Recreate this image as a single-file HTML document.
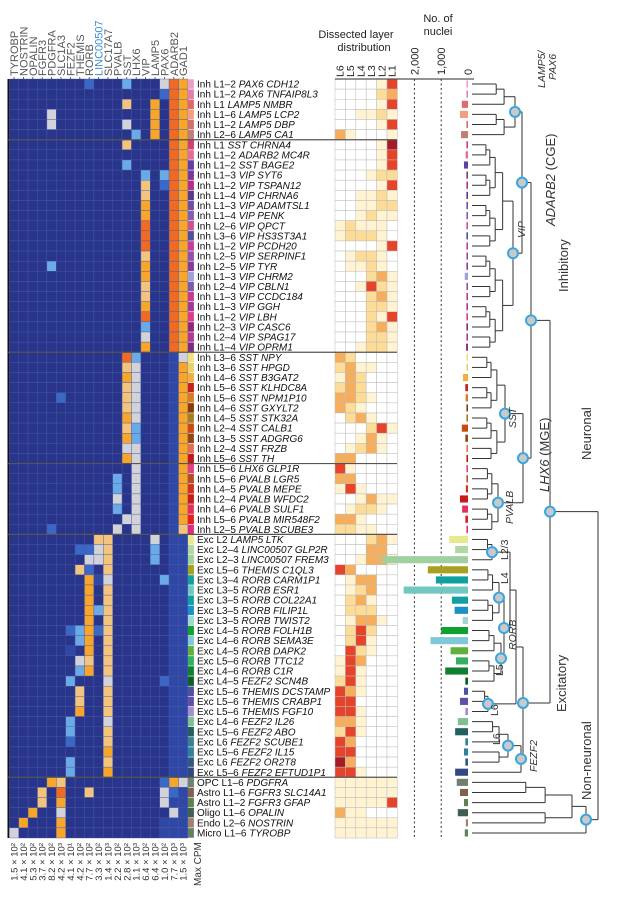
<!DOCTYPE html>
<html><head><meta charset="utf-8"><style>
html,body{margin:0;padding:0;background:#fff;}
svg{display:block;font-family:"Liberation Sans",Arial,sans-serif;}
</style></head><body>
<svg id="fig" width="623" height="900" viewBox="0 0 623 900" xmlns="http://www.w3.org/2000/svg">
<g id="heat"></g>
<g id="labels"></g>
<g id="layers"></g>
<g id="bars"></g>
<g id="dendro"></g>
<g id="annot">
  <text x="356" y="38" font-size="11" text-anchor="middle" fill="#222">Dissected layer</text>
  <text x="364" y="51" font-size="11" text-anchor="middle" fill="#222">distribution</text>
  <text x="438" y="22" font-size="11" text-anchor="middle" fill="#222">No. of</text>
  <text x="438" y="35" font-size="11" text-anchor="middle" fill="#222">nuclei</text>
  <text transform="translate(545,88) rotate(-90)" font-size="10.5" fill="#333" font-style="italic">LAMP5/</text>
  <text transform="translate(556,80) rotate(-90)" font-size="10.5" fill="#333" font-style="italic">PAX6</text>
  <text transform="translate(555,226) rotate(-90)" font-size="13" fill="#333"><tspan font-style="italic">ADARB2</tspan> (CGE)</text>
  <text transform="translate(525,238) rotate(-90)" font-size="10.5" fill="#333" font-style="italic">VIP</text>
  <text transform="translate(568,292) rotate(-90)" font-size="13" fill="#333">Inhibitory</text>
  <text transform="translate(516,428) rotate(-90)" font-size="10.5" fill="#333" font-style="italic">SST</text>
  <text transform="translate(549,492) rotate(-90)" font-size="13" fill="#333"><tspan font-style="italic">LHX6</tspan> (MGE)</text>
  <text transform="translate(591,460) rotate(-90)" font-size="13" fill="#333">Neuronal</text>
  <text transform="translate(513,524) rotate(-90)" font-size="10.5" fill="#333" font-style="italic">PVALB</text>
  <text transform="translate(508,560) rotate(-90)" font-size="10.5" fill="#333">L2/3</text>
  <text transform="translate(508,584) rotate(-90)" font-size="10.5" fill="#333">L4</text>
  <text transform="translate(516,650) rotate(-90)" font-size="10.5" fill="#333" font-style="italic">RORB</text>
  <text transform="translate(503,676) rotate(-90)" font-size="10.5" fill="#333">L5</text>
  <text transform="translate(498,716) rotate(-90)" font-size="10.5" fill="#333">L6</text>
  <text transform="translate(500,745) rotate(-90)" font-size="10.5" fill="#333">L6</text>
  <text transform="translate(537,772) rotate(-90)" font-size="10.5" fill="#333" font-style="italic">FEZF2</text>
  <text transform="translate(566,712) rotate(-90)" font-size="13" fill="#333">Excitatory</text>
  <text transform="translate(591,800) rotate(-90)" font-size="13" fill="#333">Non-neuronal</text>
  <text transform="translate(201,886) rotate(-90)" font-size="10" fill="#333">Max CPM</text>
</g>
</svg>
<script>
const genes = ["TYROBP","NOSTRIN","OPALIN","FGFR3","PDGFRA","SLC1A3","FEZF2","THEMIS","RORB","LINC00507","SLC17A7","PVALB","SST","LHX6","VIP","LAMP5","PAX6","ADARB2","GAD1"];
const maxCpm = ["1.5 × 10²","4.1 × 10²","5.3 × 10²","3.7 × 10²","8.2 × 10²","4.2 × 10³","4.1 × 10¹","4.2 × 10²","7.7 × 10²","3.3 × 10²","1.4 × 10³","2.2 × 10²","2.8 × 10²","1.1 × 10³","6.4 × 10²","6.4 × 10²","1.0 × 10²","7.7 × 10³","1.5 × 10³"];
const typeClass = ["Inh L1–2","Inh L1–2","Inh L1","Inh L1–6","Inh L1–2","Inh L2–6","Inh L1","Inh L1–2","Inh L1–2","Inh L1–3","Inh L1–2","Inh L1–4","Inh L1–3","Inh L1–4","Inh L2–6","Inh L3–6","Inh L1–2","Inh L2–5","Inh L2–5","Inh L1–3","Inh L2–4","Inh L1–3","Inh L1–3","Inh L1–2","Inh L2–3","Inh L2–4","Inh L1–4","Inh L3–6","Inh L3–6","Inh L4–6","Inh L5–6","Inh L5–6","Inh L4–6","Inh L4–5","Inh L2–4","Inh L3–5","Inh L2–4","Inh L5–6","Inh L5–6","Inh L5–6","Inh L4–5","Inh L2–4","Inh L4–6","Inh L5–6","Inh L2–5","Exc L2","Exc L2–4","Exc L2–3","Exc L5–6","Exc L3–4","Exc L3–5","Exc L3–5","Exc L3–5","Exc L3–5","Exc L4–5","Exc L4–6","Exc L4–5","Exc L5–6","Exc L4–6","Exc L4–5","Exc L5–6","Exc L5–6","Exc L5–6","Exc L4–6","Exc L5–6","Exc L6","Exc L5–6","Exc L6","Exc L5–6","OPC L1–6","Astro L1–6","Astro L1–2","Oligo L1–6","Endo L2–6","Micro L1–6"];
const typeGenes = ["PAX6 CDH12","PAX6 TNFAIP8L3","LAMP5 NMBR","LAMP5 LCP2","LAMP5 DBP","LAMP5 CA1","SST CHRNA4","ADARB2 MC4R","SST BAGE2","VIP SYT6","VIP TSPAN12","VIP CHRNA6","VIP ADAMTSL1","VIP PENK","VIP QPCT","VIP HS3ST3A1","VIP PCDH20","VIP SERPINF1","VIP TYR","VIP CHRM2","VIP CBLN1","VIP CCDC184","VIP GGH","VIP LBH","VIP CASC6","VIP SPAG17","VIP OPRM1","SST NPY","SST HPGD","SST B3GAT2","SST KLHDC8A","SST NPM1P10","SST GXYLT2","SST STK32A","SST CALB1","SST ADGRG6","SST FRZB","SST TH","LHX6 GLP1R","PVALB LGR5","PVALB MEPE","PVALB WFDC2","PVALB SULF1","PVALB MIR548F2","PVALB SCUBE3","LAMP5 LTK","LINC00507 GLP2R","LINC00507 FREM3","THEMIS C1QL3","RORB CARM1P1","RORB ESR1","RORB COL22A1","RORB FILIP1L","RORB TWIST2","RORB FOLH1B","RORB SEMA3E","RORB DAPK2","RORB TTC12","RORB C1R","FEZF2 SCN4B","THEMIS DCSTAMP","THEMIS CRABP1","THEMIS FGF10","FEZF2 IL26","FEZF2 ABO","FEZF2 SCUBE1","FEZF2 IL15","FEZF2 OR2T8","FEZF2 EFTUD1P1","PDGFRA","FGFR3 SLC14A1","FGFR3 GFAP","OPALIN","NOSTRIN","TYROBP"];
const exprRows = [
"........b...l...gro","................bro","............y..o.ro","....g..........o.ro","....g.......g..o.ro",".............l.o.ro",
"............y....ro",".................ro","............l....ro","..............l.lro","..............y.bro","..............y..ro",
"..............o..ro","..............o..ro","..............r..ro","..............r..ro","..............r..ro","..............y..ro",
"....l.........o..ro","..............o..ro","..............y..ro","..............y..ro","..............o..ro","..............r..ro",
"..............l..ro","..............g..ro","..............o..ro",
"............rl...dg","............yg...do","............og...do","............yg...do",".....b......yg...do","............yg...do",
"............og...do","............yl...do","............ol...do","............gg...do","............og...do",
".............g...do","...........l.g...do","...........l.g...do","...........g.g...do","...........l.g...do","............gg...do","....b......g.g...dy",
".........yy....g.dd",".......bbgy....l.dd","........ggy....l.dd",".......yb.y......dd","........odg.....ldd","........o.y......dd",
"........o.y......dd","........oly......dd","........o.y......dd","......bloby......dd",".......lo.y......dd","......d.o.y......dd",
".......gy.y......dd",".......lo.y......dd","......l...g.....bdd",".......y..y......dd",".......y..y......dd",".......o..y......dd",
"......l...g......dd","......l...y......dd","......b...y......dd","..........o......dd","......l...y......dd","......l...o......dd",
"....oy..........bog","...y.r..y.......gbd","...y.o..........gdd","..o..g...........gd",".o...o..........ddd","g....o..........ddd"];
const exprColors = {".":"#29358b","d":"#2f48a6","b":"#3a68c6","l":"#6aaae6","g":"#d2d3d9","y":"#f3c47e","o":"#f8a62a","r":"#f06a24"};
const stripColors = ["#e8a0c8","#e07fb0","#e06a6a","#f0a080","#d07070","#c08070",
"#d04070","#e0709a","#6040a0","#7a3a9a","#b0308a","#5a3a8a","#7050a0","#8060b0","#d05090","#5050a0","#c040a0","#9050b0","#8a3a9a","#a0a0d8","#7a5ab0","#c83a8a","#a03a9a","#e03a8a","#8a2a7a","#b03a90","#7a2a8a",
"#f0e080","#e8d070","#f0b040","#c82020","#d08020","#8a3a10","#a08020","#c84a10","#8a4a10","#e07050","#c01818",
"#e04080","#b05020","#d03020","#c81a1a","#e03060","#e02020","#e02a7a",
"#e8e890","#b0d8a0","#a0d0a0","#a8a020","#10a0a0","#70c8c0","#10a0a0","#1890c8","#a0d8d0","#10a030","#80c8d8","#60b040","#30b060","#108030","#0a6020","#5050a0","#6050a8","#a090d0","#80c090","#206060","#3a8090","#3080a0","#305a80","#304a80",
"#708070","#806050","#608050","#406050","#a08070","#608060"];
const layerNames = ["L6","L5","L4","L3","L2","L1"];
const layerRows = ["000014","000023","000014","001121","000014","310001",
"000015","000014","000014","000122","000014","001121","001122","001211","121110","122210","000014","012210","011210","000231","001421","000231","000221","000214","000231","000221","001221",
"320000","231100","132000","232000","332100","321000","023100","000241","001310","012310","330000",
"410000","330000","141000","001311","012210","331000","221100",
"000231","000330","001331","430000","013300","012300","023100","022200","013310","024200","024100","042100","143000","141000","241000","431000","440000","441000","331000","241000","430000","440000","530000","441000",
"111111","111111","111114","311000","111111","111111"];
const layerColors = ["#ffffff","#fff3d2","#fddc98","#f7ae5c","#e6442a","#a51c26"];
const nucleiTicks = [2000,1000,0];
const nucleiTickLabels = ["2,000","1,000","0"];
const nuclei = [40,40,230,300,40,260,
60,90,150,60,50,50,60,50,40,60,50,60,40,120,50,60,40,50,60,50,70,
40,60,190,100,90,60,60,230,100,50,40,
50,60,80,300,220,100,60,
700,480,3200,1500,1200,2400,600,500,200,1000,1400,650,450,850,100,150,300,100,380,480,100,150,100,480,
420,300,150,380,80,120];
const sectionEnds = [6,27,38,45,69];

const NS = "http://www.w3.org/2000/svg";
function mk(tag, attrs, parent){const e=document.createElementNS(NS,tag);for(const k in attrs)e.setAttribute(k,attrs[k]);parent.appendChild(e);return e;}
const Y0=79, RH=10.12, X0=9.3, CW=9.4;
const rowY = r => Y0 + RH*r;
const colX = c => X0 + CW*c;

const heat=document.getElementById('heat');
mk('rect',{x:7.5,y:Y0,width:2,height:RH*75,fill:'#111'},heat);
exprRows.forEach((row,r)=>{
  for(let c=0;c<genes.length;c++){
    const cell=mk('rect',{x:colX(c),y:rowY(r),width:CW,height:RH,fill:exprColors[row[c]],stroke:'#4858a4','stroke-width':0.4},heat);
    
    
  }
  const s=mk('rect',{x:colX(19),y:rowY(r)+0.3,width:6,height:RH-0.6,fill:stripColors[r]},heat);
  
  
});
genes.forEach((g,c)=>{
  const t=mk('text',{transform:`translate(${colX(c)+CW/2+4},76) rotate(-90)`,'font-size':11,fill:g==='LINC00507'?'#3a8fd0':'#555'},heat);
  t.textContent=g;
  
  
  mk('line',{x1:colX(c)+CW/2,x2:colX(c)+CW/2,y1:Y0-2,y2:Y0,stroke:'#444','stroke-width':0.8},heat);
  const m=mk('text',{transform:`translate(${colX(c)+CW/2+3.5},843) rotate(-90)`,'font-size':9.5,fill:'#333','text-anchor':'end'},heat);
  m.textContent=maxCpm[c];
  
  
});

const lab=document.getElementById('labels');
typeClass.forEach((cl,r)=>{
  const t=mk('text',{x:197,y:rowY(r)+8.6,'font-size':10,fill:'#111'},lab);
  const a=mk('tspan',{},t); a.textContent=cl+' ';
  const b=mk('tspan',{'font-style':'italic'},t); b.textContent=typeGenes[r];
  
  
});

const LX0=335, LW=10.4;
const lay=document.getElementById('layers');
layerRows.forEach((row,r)=>{
  for(let c=0;c<6;c++){
    const cell=mk('rect',{x:LX0+LW*c,y:rowY(r),width:LW,height:RH,fill:layerColors[+row[c]],stroke:'#bbb','stroke-width':0.5},lay);
    
    
  }
});
layerNames.forEach((n,c)=>{
  const t=mk('text',{transform:`translate(${LX0+LW*c+LW/2+3.5},77) rotate(-90)`,'font-size':10.5,fill:'#222'},lay);
  t.textContent=n;
  
  
});
sectionEnds.forEach(k=>{
  const l=mk('line',{x1:8,x2:397,y1:rowY(k),y2:rowY(k),stroke:'#555','stroke-width':1.2},lay);
  
  
});

const bars=document.getElementById('bars');
const ZX=468, PX=0.0268;
const nx = v => ZX - v*PX;
mk('line',{x1:335,x2:474,y1:Y0,y2:Y0,stroke:'#555','stroke-width':1.2},bars);
nucleiTicks.forEach((v,i)=>{
  if(v>0){mk('line',{x1:nx(v),x2:nx(v),y1:Y0,y2:rowY(75),stroke:'#333','stroke-width':1,'stroke-dasharray':'2,2.5'},bars);}
  const t=mk('text',{transform:`translate(${nx(v)+4},75) rotate(-90)`,'font-size':11,fill:'#222'},bars);
  t.textContent=nucleiTickLabels[i];
  
  
});
nuclei.forEach((v,r)=>{
  const w=Math.max(1.6,ZX-nx(v));
  const b=mk('rect',{x:ZX-w,y:rowY(r)+1.5,width:w,height:RH-3,fill:stripColors[r]},bars);
  
  
});

// dendrogram
const dg=document.getElementById('dendro');
const LEAFX=472;
function bal(lo,hi,xl,xt){
  if(lo===hi) return lo;
  const mid=Math.floor((lo+hi)/2);
  const xc=xl+(xt-xl)*0.72;
  return {h:xt,c:[bal(lo,mid,xl,xc),bal(mid+1,hi,xl,xc)]};
}
const lamp=bal(0,5,476,515), vip=bal(6,26,476,513);
const cge={h:522,c:[lamp,vip]};
const sst=bal(27,37,476,505), pv=bal(38,44,476,498);
const mge={h:523,c:[sst,pv]};
const inh={h:531,c:[cge,mge]};
const l23=bal(45,47,476,492), l4=bal(48,53,476,499), l5=bal(54,59,476,501);
const rorb={h:504,c:[l4,l5]};
const it={h:510,c:[l23,rorb]};
const l6t=bal(60,62,476,488);
const itl6={h:516,c:[it,l6t]};
const fz6=bal(63,67,476,508);
const fezf2={h:521,c:[fz6,68]};
const exc={h:523,c:[itl6,fezf2]};
const neu={h:550,c:[inh,exc]};
const non={h:586,c:[bal(69,73,476,572),74]};
const root={h:598,c:[neu,non]};
function draw(n){
  if(typeof n==='number') return {x:LEAFX,y:rowY(n)+RH/2};
  const ch=n.c.map(draw);
  ch.forEach(p=>mk('line',{x1:p.x,x2:n.h,y1:p.y,y2:p.y,stroke:'#333','stroke-width':1},dg));
  const ys=ch.map(p=>p.y);
  mk('line',{x1:n.h,x2:n.h,y1:Math.min(...ys),y2:Math.max(...ys),stroke:'#333','stroke-width':1},dg);
  n.x=n.h; n.y=(Math.min(...ys)+Math.max(...ys))/2;
  return {x:n.h,y:n.y};
}
draw(root);
[lamp,cge,vip,inh,mge,sst,pv,neu,l23,l4,rorb,l5,l6t,exc,fezf2,fz6,non].forEach(n=>{
  const c=mk('circle',{cx:n.x,cy:n.y,r:5,fill:'#c9c9c9',stroke:'#3aa6df','stroke-width':2},dg);
  
  
});
</script>
</body></html>
